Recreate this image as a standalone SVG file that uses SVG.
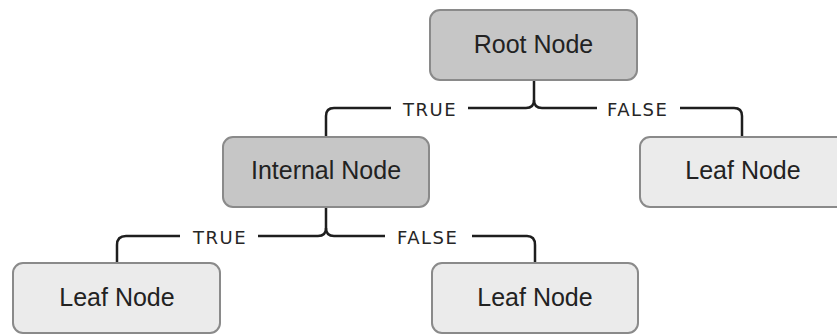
<svg xmlns="http://www.w3.org/2000/svg" width="837" height="336" viewBox="0 0 837 336">
  <style>
    .box { stroke: #8a8a8a; stroke-width: 2; }
    .decision { fill: #c6c6c6; }
    .leaf { fill: #ebebeb; }
    .name { font-family: "Liberation Sans", Arial, sans-serif; font-size: 25px; fill: #222222; text-anchor: middle; }
    .edge { fill: none; stroke: #1e1e1e; stroke-width: 2.5; }
    .cond { font-family: "DejaVu Sans", sans-serif; font-size: 18px; letter-spacing: 1.5px; fill: #262626; }
  </style>
  <rect width="837" height="336" fill="#ffffff"/>

  <g id="connectors">
    <!-- root split -->
    <path class="edge" d="M534,80 V100 Q534,108 526,108 H468"/>
    <path class="edge" d="M534,100 Q534,108 542,108 H597"/>
    <path class="edge" d="M391,108 H334 Q326,108 326,116 V137"/>
    <path class="edge" d="M680,108 H734 Q742,108 742,116 V137"/>
    <text class="cond" x="403" y="115.5">TRUE</text>
    <text class="cond" x="607" y="115.5">FALSE</text>

    <!-- internal split -->
    <path class="edge" d="M326,207 V228 Q326,236 318,236 H258"/>
    <path class="edge" d="M326,228 Q326,236 334,236 H385"/>
    <path class="edge" d="M180,236 H126 Q117,236 117,245 V263"/>
    <path class="edge" d="M472,236 H527 Q535,236 535,245 V263"/>
    <text class="cond" x="193" y="243.5">TRUE</text>
    <text class="cond" x="397" y="243.5">FALSE</text>
  </g>

  <g id="root">
    <rect class="box decision" x="430" y="10" width="207" height="70" rx="10"/>
    <text class="name" x="533.5" y="53">Root Node</text>
  </g>

  <g id="internal">
    <rect class="box decision" x="223" y="137" width="206" height="70" rx="10"/>
    <text class="name" x="326" y="179">Internal Node</text>
  </g>

  <g id="leaf-right">
    <rect class="box leaf" x="640" y="137" width="207" height="70" rx="10"/>
    <text class="name" x="743" y="179">Leaf Node</text>
  </g>

  <g id="leaf-left">
    <rect class="box leaf" x="13" y="263" width="207" height="70" rx="10"/>
    <text class="name" x="117" y="306">Leaf Node</text>
  </g>

  <g id="leaf-middle">
    <rect class="box leaf" x="432" y="263" width="206" height="70" rx="10"/>
    <text class="name" x="535" y="306">Leaf Node</text>
  </g>
</svg>
